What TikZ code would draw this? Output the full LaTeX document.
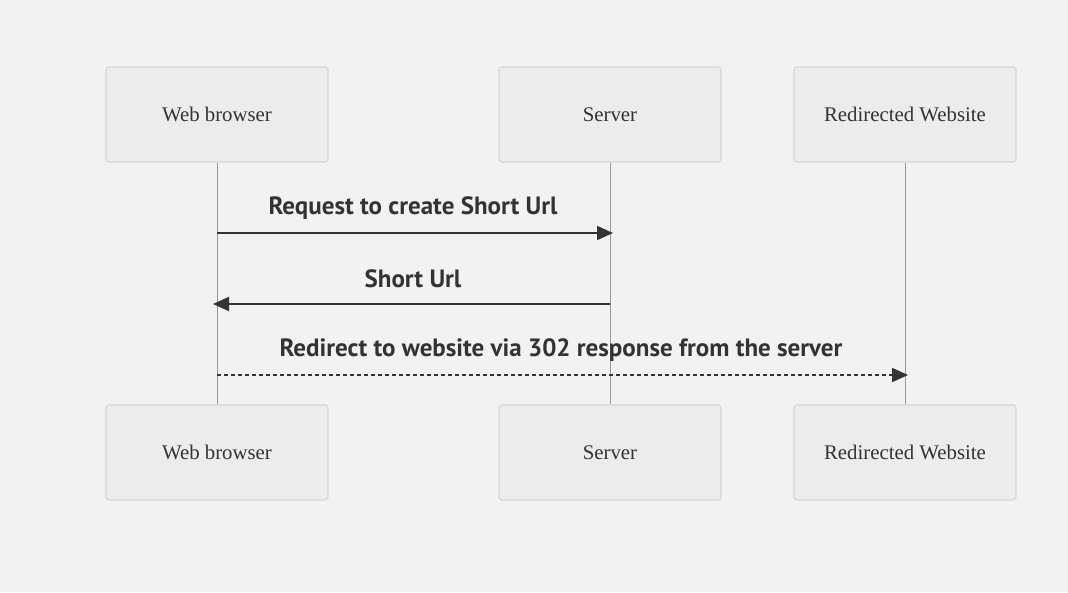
\documentclass[tikz,border=0pt]{standalone}
\usepackage{fontspec}
\setmainfont{Liberation Serif}
\newfontfamily\msgfont{PT Sans}
\usetikzlibrary{arrows.meta}
\definecolor{bgcol}{HTML}{F2F2F2}
\definecolor{boxfill}{HTML}{ECECEC}
\definecolor{boxline}{HTML}{D6D6D6}
\definecolor{lifecol}{HTML}{999999}
\definecolor{msgcol}{HTML}{333333}
\tikzset{
	actor/.style={draw=boxline, fill=boxfill, rounded corners=3pt, line width=1.2pt,
		minimum width=222pt, minimum height=95pt, font=\fontsize{20.8}{24}\selectfont, text=msgcol},
	lifeline/.style={draw=lifecol, line width=1pt},
	msg/.style={draw=msgcol, line width=2pt, -{Triangle[length=16pt,width=14pt]}},
	msglabel/.style={font=\msgfont\bfseries\fontsize{25}{28}\selectfont, text=msgcol}
}
\begin{document}
\begin{tikzpicture}[x=1pt,y=-1pt]
	\fill[bgcol] (0,0) rectangle (1068,592);
	\useasboundingbox (0,0) rectangle (1068,592);
	\foreach \n/\x/\t in {web/217/Web browser, srv/610/Server, red/905/Redirected Website}
	{
		\node[actor] (\n top) at (\x,114.5) {\t};
		\node[actor] (\n bot) at (\x,452.5) {\t};
		\draw[lifeline] (\n top) -- (\n bot);
	}
	% message end points on the lifelines
	\coordinate (m1a) at (217,233);
	\coordinate (m1b) at (613,233);
	\coordinate (m2a) at (610,304);
	\coordinate (m2b) at (213,304);
	\coordinate (m3a) at (217,375);
	\coordinate (m3b) at (908,375);
	\draw[msg] (m1a) -- (m1b);
	\draw[msg] (m2a) -- (m2b);
	\draw[msg, dash pattern=on 4pt off 3pt] (m3a) -- (m3b);
	\node[msglabel] (l1) at (413,208) {Request to create Short Url};
	\node[msglabel] (l2) at (413,279) {Short Url};
	\node[msglabel] (l3) at (561,350) {Redirect to website via 302 response from the server};
\end{tikzpicture}
\end{document}
